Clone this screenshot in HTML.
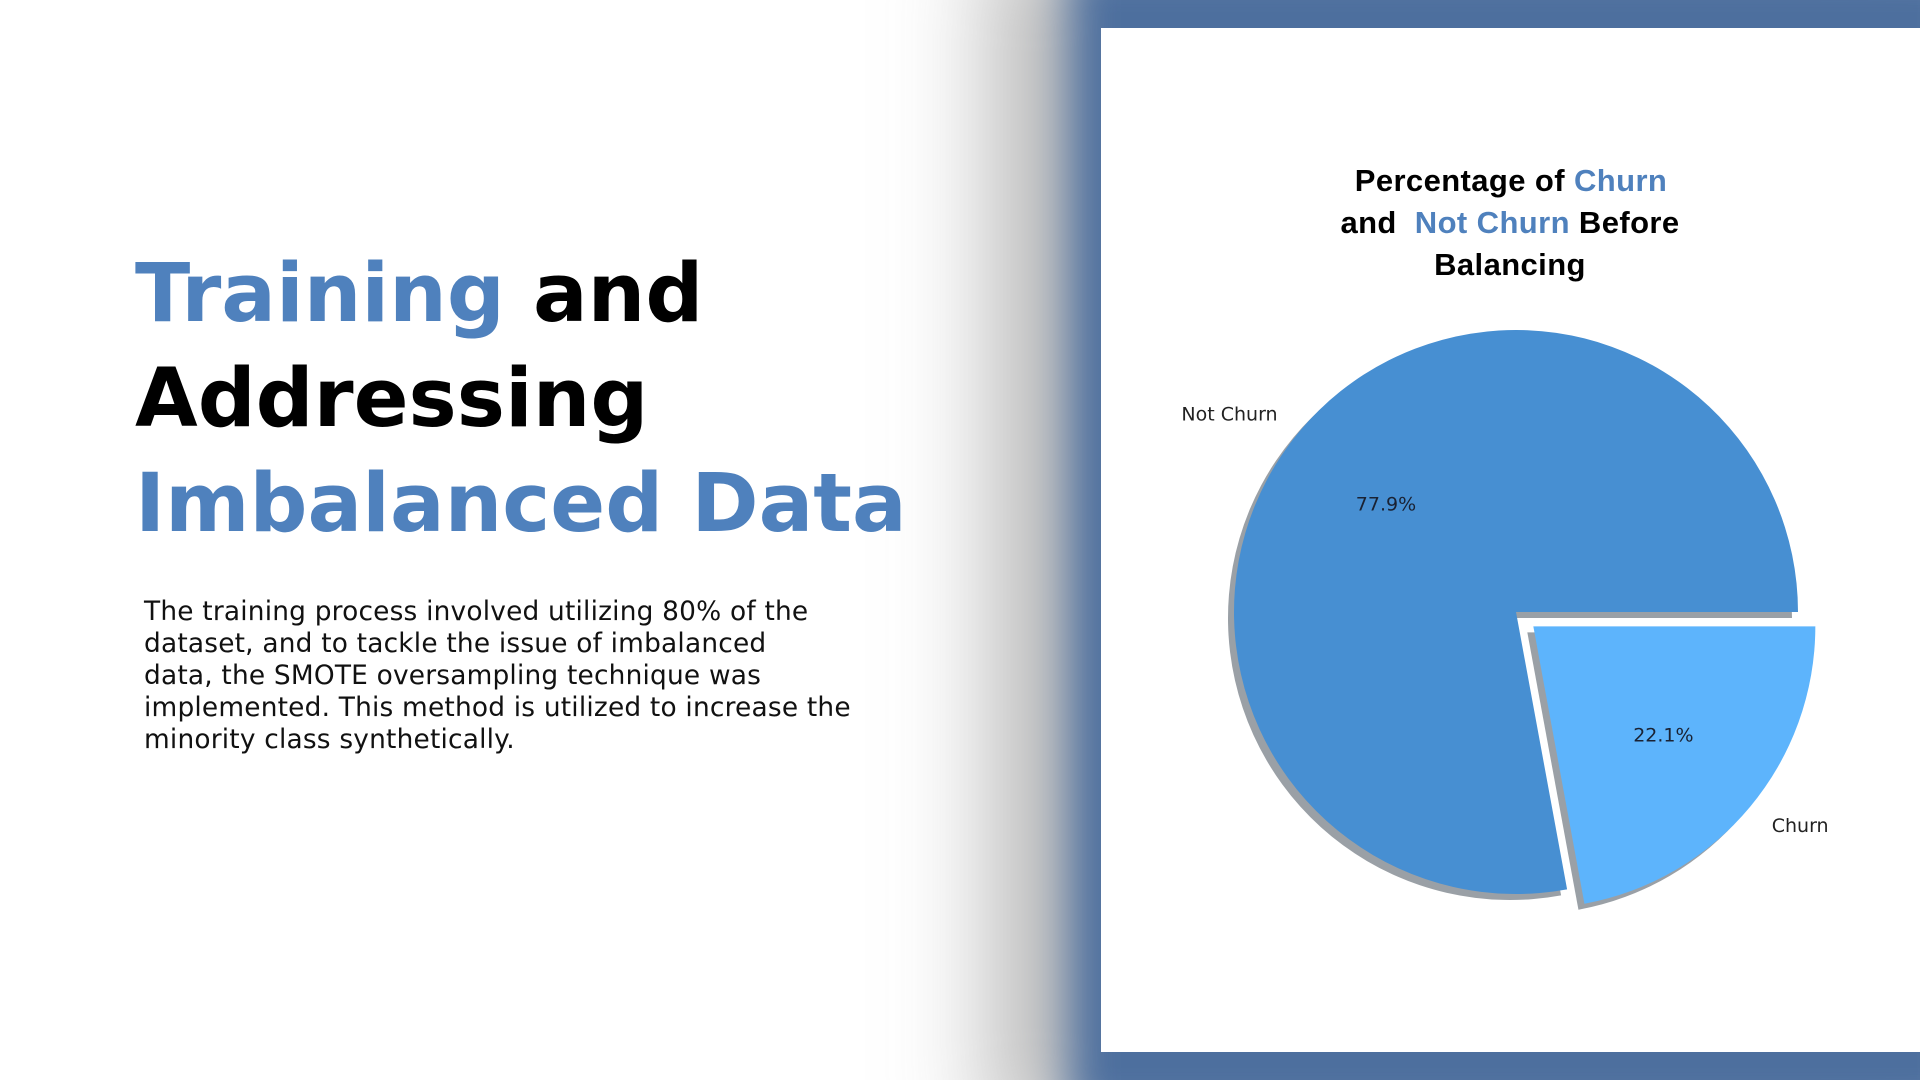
<!DOCTYPE html>
<html><head><meta charset="utf-8">
<style>
html,body{margin:0;padding:0;width:1920px;height:1080px;overflow:hidden;background:#fff;font-family:"DejaVu Sans","Liberation Sans",sans-serif;}
#wrap{position:relative;width:1920px;height:1080px;overflow:hidden;}
#frame{position:absolute;left:1070px;top:-40px;width:900px;height:1160px;background:#4d6f9e;filter:blur(22px);box-shadow:-60px 0 80px 20px rgba(120,120,120,0.5);}
#panel{position:absolute;left:1101px;top:28px;width:819px;height:1024px;background:#fff;}
h1{position:absolute;left:135px;top:242px;margin:0;font-size:81px;line-height:105px;font-weight:bold;color:#000;}
.b{color:#4f81bd;}
p{position:absolute;left:144px;top:596px;margin:0;width:900px;font-size:26.4px;line-height:32px;color:#111;letter-spacing:0.2px;white-space:nowrap;}
svg{position:absolute;left:0;top:0;}
</style></head>
<body>
<div id="wrap">
<div id="frame"></div>
<div id="panel"></div>
<h1><span class="b">Training</span> and<br>Addressing<br><span class="b">Imbalanced Data</span></h1>
<p>The training process involved utilizing 80% of the<br>dataset, and to tackle the issue of imbalanced<br>data, the SMOTE oversampling technique was<br>implemented. This method is utilized to increase the<br>minority class synthetically.</p>
<svg id="chart" width="1920" height="1080">
<text x="1511" y="191" text-anchor="middle" font-family="Liberation Sans, sans-serif" font-weight="bold" font-size="31" letter-spacing="0.4">Percentage of <tspan fill="#4f81bd">Churn</tspan></text>
<text x="1510" y="233" text-anchor="middle" font-family="Liberation Sans, sans-serif" font-weight="bold" font-size="31" letter-spacing="0.4">and &#160;<tspan fill="#4f81bd">Not Churn</tspan> Before</text>
<text x="1510" y="275" text-anchor="middle" font-family="Liberation Sans, sans-serif" font-weight="bold" font-size="31" letter-spacing="0.4">Balancing</text>
<g id="pie"></g>
</svg>
</div>
<script>
const categories = ["Not Churn", "Churn"];
const values = [77.9, 22.1];
const explodes = [0, 0.08];
const pctLabels = ["77.9%", "22.1%"];

const cx = 1516, cy = 612, r = 282;
const colors = ["#478fd2", "#5db4fc"];
const ns = "http://www.w3.org/2000/svg";
const g = document.getElementById('pie');
const total = values.reduce((a, b) => a + b, 0);
function pt(a, rad, ox, oy) { return [ox + rad * Math.cos(a), oy - rad * Math.sin(a)]; }
function wedgePath(a0, a1, ox, oy) {
  const p0 = pt(a0, r, ox, oy), p1 = pt(a1, r, ox, oy);
  const large = (a1 - a0) > Math.PI ? 1 : 0;
  return `M${ox},${oy} L${p0[0]},${p0[1]} A${r},${r} 0 ${large} 0 ${p1[0]},${p1[1]} Z`;
}
let start = 0;
const wedges = [];
values.forEach((v, i) => {
  const a0 = start, a1 = start + v / total * 2 * Math.PI;
  const mid = (a0 + a1) / 2;
  const ox = cx + explodes[i] * r * Math.cos(mid);
  const oy = cy - explodes[i] * r * Math.sin(mid);
  wedges.push({ a0, a1, mid, ox, oy, i });
  start = a1;
});
wedges.forEach(w => {
  const s = document.createElementNS(ns, 'path');
  s.setAttribute('d', wedgePath(w.a0, w.a1, w.ox - 6, w.oy + 6));
  s.setAttribute('fill', '#6f7780');
  s.setAttribute('opacity', '0.7');
  
  
  g.appendChild(s);
});
wedges.forEach(w => {
  const p = document.createElementNS(ns, 'path');
  p.setAttribute('d', wedgePath(w.a0, w.a1, w.ox, w.oy));
  p.setAttribute('fill', colors[w.i]);
  
  
  g.appendChild(p);
  const lp = pt(w.mid, r * 1.1, w.ox, w.oy);
  const t = document.createElementNS(ns, 'text');
  t.setAttribute('x', lp[0]); t.setAttribute('y', lp[1] + 7);
  t.setAttribute('text-anchor', Math.cos(w.mid) < 0 ? 'end' : 'start');
  t.setAttribute('font-size', '19'); t.setAttribute('fill', '#222');
  
  
  t.textContent = categories[w.i];
  g.appendChild(t);
  const pp = pt(w.mid, r * 0.6, w.ox, w.oy);
  const tp = document.createElementNS(ns, 'text');
  tp.setAttribute('x', pp[0]); tp.setAttribute('y', pp[1] + 7);
  tp.setAttribute('text-anchor', 'middle');
  tp.setAttribute('font-size', '19'); tp.setAttribute('fill', '#1a2233');
  
  
  tp.textContent = pctLabels[w.i];
  g.appendChild(tp);
});
</script>
</body></html>
